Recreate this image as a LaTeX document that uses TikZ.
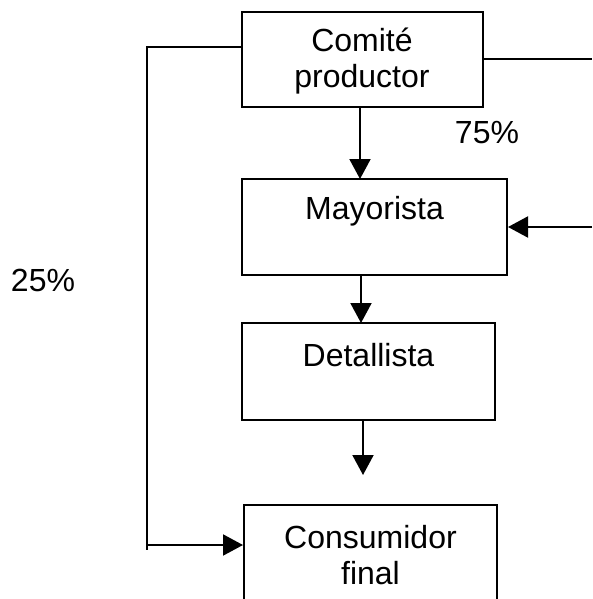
\documentclass[tikz,border=0pt]{standalone}
\usepackage{fontspec}
\setmainfont{Liberation Sans}
\usetikzlibrary{arrows.meta}
\begin{document}
\begin{tikzpicture}[x=1pt,y=-1pt,
  box/.style={draw,line width=2pt,rectangle,inner sep=0pt},
  txt/.style={font=\fontsize{32}{36}\selectfont,align=center,inner sep=0pt},
  conn/.style={line width=2pt},
  arr/.style={line width=2pt,-{Triangle[width=21pt,length=20pt]}}]
\useasboundingbox (0,0) rectangle (592,599);
\clip (0,0) rectangle (592,599);
\node[box,minimum width=241pt,minimum height=95pt] (A) at (362.5,59.5) {};
\node[box,minimum width=265pt,minimum height=96pt] (B) at (374.5,227) {};
\node[box,minimum width=253pt,minimum height=97pt] (C) at (368.5,371.5) {};
\node[box,minimum width=253pt,minimum height=140pt] (D) at (370.5,575) {};
\node[txt] (tA) at (362,61) {Comité\\productor};
\node[txt] (tB) at (374.5,211) {Mayorista};
\node[txt] (tC) at (368.5,355) {Detallista};
\node[txt] (tD) at (370.5,555) {Consumidor\\final};
\node[txt] (p75) at (487,133) {75\%};
\node[txt] (p25) at (43,280) {25\%};
\coordinate (Aw) at (242,47);
\coordinate (L1) at (147,47);
\coordinate (L2) at (147,550);
\coordinate (L3) at (147,545);
\coordinate (Ae) at (483,59);
\coordinate (R1) at (592,59);
\coordinate (R2) at (592,227);
\coordinate (Cend) at (363,475);
\draw[conn] (Aw) -- (L1) -- (L2);
\draw[arr] (L3) -- (D.west |- L3);
\draw[conn] (Ae) -- (R1);
\draw[arr] (R2) -- (B.east |- R2);
\draw[arr] (360,107) -- (360,179);
\draw[arr] (361,275) -- (361,323);
\draw[arr] (363,420) -- (Cend);
\end{tikzpicture}
\end{document}
